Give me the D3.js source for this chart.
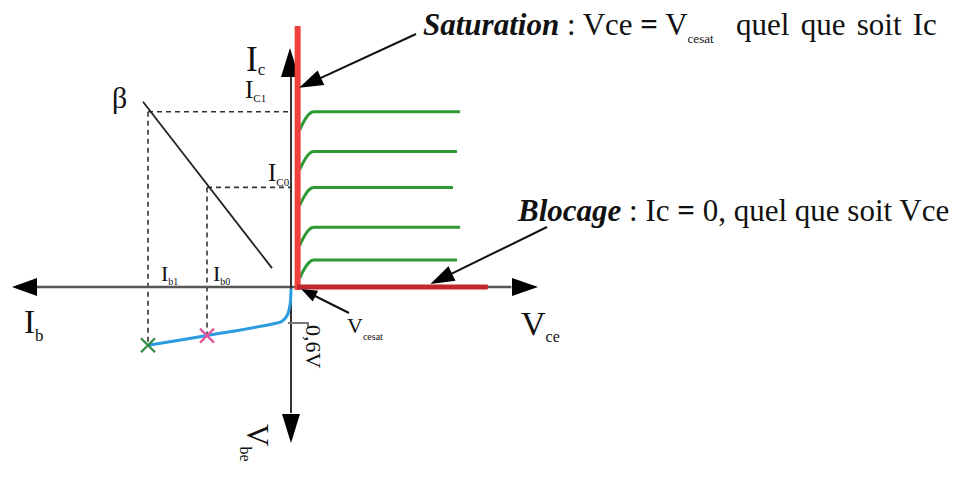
<!DOCTYPE html>
<html><head><meta charset="utf-8">
<script src="https://cdn.jsdelivr.net/npm/d3@7"></script>
<style>body{margin:0;background:#fff}svg{display:block}text{font-family:"Liberation Serif","Times New Roman",serif;fill:#111}</style>
</head><body>
<svg id="c" width="954" height="477"></svg>
<script>
// ---- data ----
const icLevels = [8.8, 6.8, 5.0, 3.0, 1.35];        // mA, output characteristic plateaus
const vceEnds  = [8.25, 8.1, 7.9, 8.25, 8.1];       // V, end of each plateau
const vceSat = 0.3;                                   // V
const vceBlockEnd = 9.6;                              // V
const icSatTop = 13.1;                                // mA
const ibMarks = [71.5, 42];                           // µA  (Ib1, Ib0)
const icMarks = [8.8, 5.0];                           // mA  (Ic1, Ic0)
const vbeMarks = [0.97, 0.81];                        // V
const markColors = ["#2e8b45", "#e0559a"];
const inputCurve = [[0,0.03],[0.5,0.3],[2,0.48],[4.5,0.57],[7,0.6],[42,0.81],[71.5,0.97]]; // [Ib µA, Vbe V]
const betaLine = [[74, 9.3], [9.5, 0.95]];            // [Ib, Ic]
const vbeKnee = 0.6;

// ---- scales ----
const xV  = d3.scaleLinear().domain([0, 12]).range([291, 537]);
const yI  = d3.scaleLinear().domain([0, 12]).range([287, 48]);
const xB  = d3.scaleLinear().domain([0, 140]).range([291, 11]);
const yBE = d3.scaleLinear().domain([0, 2.6]).range([287, 443]);

const svg = d3.select("#c");
const x0 = xV(0), y0 = yI(0);

function arrowHead(tip, dir, len, half, color){
  const [tx,ty]=tip, [dx,dy]=dir, nx=-dy, ny=dx;
  const bx=tx-dx*len, by=ty-dy*len;
  svg.append("path").attr("d",`M${tx},${ty}L${bx+nx*half},${by+ny*half}L${bx-nx*half},${by-ny*half}Z`).attr("fill",color);
}

// dashed guides
const g = svg.append("g");
ibMarks.forEach((ib,i)=>{
  g.append("line").attr("x1",xB(ib)).attr("x2",x0).attr("y1",yI(icMarks[i])).attr("y2",yI(icMarks[i]))
   .attr("stroke","#333").attr("stroke-width",1.6).attr("stroke-dasharray","5,4");
  g.append("line").attr("x1",xB(ib)).attr("x2",xB(ib)).attr("y1",yI(icMarks[i])).attr("y2",yBE(vbeMarks[i]))
   .attr("stroke","#333").attr("stroke-width",1.6).attr("stroke-dasharray","5,4");
});

// beta line
svg.append("line").attr("x1",xB(betaLine[0][0])).attr("y1",yI(betaLine[0][1]))
  .attr("x2",xB(betaLine[1][0])).attr("y2",yI(betaLine[1][1])).attr("stroke","#222").attr("stroke-width",1.8);

// axes
svg.append("line").attr("x1",xB(127.5)).attr("x2",xV(10.75)).attr("y1",y0).attr("y2",y0).attr("stroke","#555").attr("stroke-width",2.5);
arrowHead([xB(139.5),y0],[-1,0],25,9,"#000");
arrowHead([xV(12.05),y0],[1,0],26,9,"#000");
svg.append("line").attr("x1",x0).attr("x2",x0).attr("y1",yI(10.6)).attr("y2",yBE(2.1)).attr("stroke","#333").attr("stroke-width",2);
arrowHead([x0-1,yI(12)],[0,-1],29,9,"#000");
arrowHead([x0,yBE(2.6)],[0,1],29,9,"#000");

// green output characteristics
const lineVI = d3.line().x(d=>xV(d[0])).y(d=>yI(d[1])).curve(d3.curveMonotoneX);
icLevels.forEach((L,i)=>{
  const pts=[[0.42,L-0.92],[0.62,L-0.5],[0.85,L-0.15],[1.1,L],[vceEnds[i],L]];
  svg.append("path").attr("d",lineVI(pts)).attr("fill","none").attr("stroke","#2f9a35").attr("stroke-width",3);
});

// saturation & blocage
svg.append("line").attr("x1",xV(vceSat)+0.5).attr("x2",xV(vceSat)+0.5).attr("y1",yI(icSatTop)).attr("y2",y0+3)
  .attr("stroke","#f2403f").attr("stroke-width",6);
svg.append("line").attr("x1",xV(vceSat)).attr("x2",xV(vceBlockEnd)).attr("y1",y0).attr("y2",y0)
  .attr("stroke","#c1272d").attr("stroke-width",5);

// input characteristic
svg.append("path").attr("d",d3.line().x(d=>xB(d[0])).y(d=>yBE(d[1])).curve(d3.curveCatmullRom)(inputCurve))
  .attr("fill","none").attr("stroke","#2b9be0").attr("stroke-width",3);

// markers
ibMarks.forEach((ib,i)=>{
  const cx=xB(ib), cy=yBE(vbeMarks[i]), s=7;
  svg.append("path").attr("d",`M${cx-s},${cy-s}L${cx+s},${cy+s}M${cx-s},${cy+s}L${cx+s},${cy-s}`)
    .attr("stroke",markColors[i]).attr("stroke-width",2.2);
});

// 0.6V leader
svg.append("path").attr("d",`M${x0-3},${yBE(vbeKnee)}L${x0+17},${yBE(vbeKnee)}L${x0+17},${yBE(vbeKnee)+5}`)
  .attr("fill","none").attr("stroke","#777").attr("stroke-width",2);

// annotation arrows
function annot(x1,y1,x2,y2,len,half){
  const dx=x2-x1, dy=y2-y1, l=Math.hypot(dx,dy), ux=dx/l, uy=dy/l;
  svg.append("line").attr("x1",x1).attr("y1",y1).attr("x2",x2-ux*len*0.8).attr("y2",y2-uy*len*0.8).attr("stroke","#111").attr("stroke-width",2);
  arrowHead([x2,y2],[ux,uy],len,half,"#000");
}
annot(416,34,xV(vceSat)+2,yI(10.0),24,8);
annot(547,227,xV(6.8),y0-3,24,8);
annot(349,313,xV(vceSat)+4,y0+2,16,6);

// labels with subscripts
function lab(x,y,main,sub,fs,sfs,dy,opts={}){
  const t=svg.append("text").attr("x",x).attr("y",y).attr("font-size",fs);
  if(opts.rotate) t.attr("transform",`rotate(90,${x},${y})`);
  t.append("tspan").text(main);
  if(sub) t.append("tspan").attr("font-size",sfs).attr("dy",dy).text(sub);
  return t;
}
lab(112,108,"β",null,30);
lab(246,71,"I","c",35,17,4);
lab(245,98,"I","C1",25,11,4);
lab(268,181,"I","C0",25,11,5);
lab(161,281,"I","b1",22,10,4);
lab(213,281,"I","b0",22,10,4);
lab(24,333,"I","b",33,17,8);
lab(521,335,"V","ce",34,16,7);
lab(347,333,"V","cesat",22,10,7);
svg.append("text").attr("x",306).attr("y",325).attr("font-size",22).attr("fill","#333")
  .attr("transform","rotate(90,306,325)").text("0,6V");
lab(247,424,"V","be",31,16,7,{rotate:true});

// headline texts
const t1=svg.append("text").attr("x",423).attr("y",35).attr("font-size",31);
t1.append("tspan").attr("font-weight","bold").attr("font-style","italic").text("Saturation");
t1.append("tspan").text(" : Vce ");
t1.append("tspan").attr("font-weight","bold").text("=");
t1.append("tspan").text(" V");
t1.append("tspan").attr("font-size",13).attr("dy",8).text("cesat");
t1.append("tspan").attr("dy",-8).attr("word-spacing",3.5).text("\u00a0\u00a0quel que soit Ic");

const t2=svg.append("text").attr("x",518).attr("y",221).attr("font-size",31);
t2.append("tspan").attr("font-weight","bold").attr("font-style","italic").text("Blocage");
t2.append("tspan").text(" : Ic ");
t2.append("tspan").attr("font-weight","bold").text("=");
t2.append("tspan").text(" 0, quel que soit Vce");
</script>
</body></html>
